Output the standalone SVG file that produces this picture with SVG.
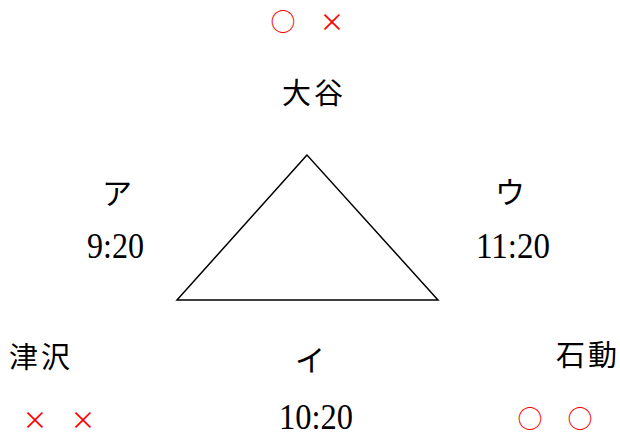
<svg xmlns="http://www.w3.org/2000/svg" width="620" height="436" viewBox="0 0 620 436">
<style>
.g{font-family:"Noto Sans CJK JP","Noto Sans CJK SC",sans-serif;font-size:29px;fill:#000;text-anchor:middle}
.k{font-family:"Liberation Serif","Noto Sans CJK JP",serif;font-size:30px;fill:#000;text-anchor:middle}
.t{font-family:"Liberation Serif",serif;font-size:36px;fill:#000}
.m{font-family:"Noto Sans CJK JP",sans-serif;font-size:25px;fill:#ff0000;text-anchor:middle}
</style>
<rect width="620" height="436" fill="#fff"/>
<g id="marks">
<text class="m" x="283" y="31">○</text>
<text class="m" x="332" y="31">×</text>
<text class="m" x="35" y="429">×</text>
<text class="m" x="83" y="429">×</text>
<text class="m" x="530" y="428">○</text>
<text class="m" x="580" y="428">○</text>
</g>
<g id="connectors">
<polygon points="307,155 177,300 438,300" fill="none" stroke="#000" stroke-width="1.5"/>
</g>
<g id="otani"><text class="g" x="314" y="104" letter-spacing="3">大谷</text></g>
<g id="tsuzawa"><text class="g" x="41" y="368" letter-spacing="3">津沢</text></g>
<g id="isurugi"><text class="g" x="588" y="366" letter-spacing="3">石動</text></g>
<g id="a"><text class="k" x="117" y="204">ア</text><text class="t" x="87" y="258" textLength="57" lengthAdjust="spacingAndGlyphs">9:20</text></g>
<g id="u"><text class="k" x="510" y="203">ウ</text><text class="t" x="476" y="258" textLength="74" lengthAdjust="spacingAndGlyphs">11:20</text></g>
<g id="i"><text class="k" x="310" y="371">イ</text><text class="t" x="279" y="429" font-size="34" textLength="74" lengthAdjust="spacingAndGlyphs">10:20</text></g>
</svg>
